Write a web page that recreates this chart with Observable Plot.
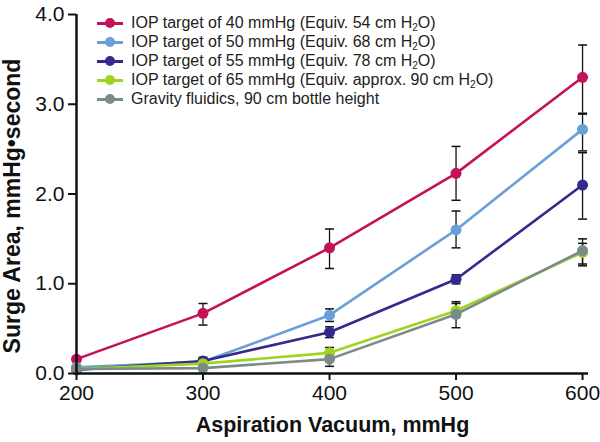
<!DOCTYPE html>
<html>
<head>
<meta charset="utf-8">
<script src="https://cdn.jsdelivr.net/npm/d3@7"></script>
<script src="https://cdn.jsdelivr.net/npm/@observablehq/plot@0.6"></script>
<style>
  html, body { margin: 0; padding: 0; background: #fff; }
  #wrap { position: relative; width: 600px; height: 442px; font-family: "Liberation Sans", Arial, sans-serif; }
  #legend { position: absolute; left: 97px; top: 13px; font-size: 16px; color: #222; }
  .row { height: 19px; display: flex; align-items: center; white-space: nowrap; }
  .sw { position: relative; width: 26px; height: 12px; margin-right: 8px; }
  .sw .ln { position: absolute; left: 0; right: 0; top: 5px; height: 3px; }
  .sw .dt { position: absolute; left: 8px; top: 1px; width: 10px; height: 10px; border-radius: 50%; }
  sub { font-size: 10px; vertical-align: -3px; line-height: 0; }
</style>
</head>
<body>
<div id="wrap"><div id="legend"></div></div>
<script>
const vacuum = [200, 300, 400, 500, 600];
const seriesNames = [
  "IOP target of 40 mmHg (Equiv. 54 cm H<sub>2</sub>O)",
  "IOP target of 50 mmHg (Equiv. 68 cm H<sub>2</sub>O)",
  "IOP target of 55 mmHg (Equiv. 78 cm H<sub>2</sub>O)",
  "IOP target of 65 mmHg (Equiv. approx. 90 cm H<sub>2</sub>O)",
  "Gravity fluidics, 90 cm bottle height"
];
const colors = ["#c4125a", "#6a9fd8", "#332a8c", "#9fd41e", "#7b8b8b"];
const iop40 = [0.16, 0.67, 1.40, 2.23, 3.30];
const iop40Lo = [null, 0.54, 1.17, 1.93, 2.90];
const iop40Hi = [null, 0.78, 1.61, 2.53, 3.66];
const iop50 = [0.07, 0.13, 0.65, 1.60, 2.72];
const iop50Lo = [null, null, 0.58, 1.40, 2.48];
const iop50Hi = [null, null, 0.72, 1.81, 2.89];
const iop55 = [0.04, 0.14, 0.46, 1.05, 2.10];
const iop55Lo = [null, 0.10, 0.40, 1.00, 1.72];
const iop55Hi = [null, 0.18, 0.52, 1.10, 2.46];
const iop65 = [0.05, 0.11, 0.23, 0.70, 1.35];
const iop65Lo = [null, null, 0.17, 0.63, 1.22];
const iop65Hi = [null, null, 0.29, 0.80, 1.45];
const gravity = [0.05, 0.06, 0.16, 0.66, 1.37];
const gravityLo = [null, null, 0.08, 0.51, 1.20];
const gravityHi = [null, null, 0.22, 0.78, 1.50];
const yTicks = [0, 1, 2, 3, 4];
const xTitle = "Aspiration Vacuum, mmHg";
const yTitle = "Surge Area, mmHg\u2022second";

const vals = [iop40, iop50, iop55, iop65, gravity];
const los = [iop40Lo, iop50Lo, iop55Lo, iop65Lo, gravityLo];
const his = [iop40Hi, iop50Hi, iop55Hi, iop65Hi, gravityHi];

const data = [];
const errs = [];
vals.forEach((arr, s) => arr.forEach((v, i) => {
  data.push({series: s, x: vacuum[i], y: v});
  if (los[s][i] != null) errs.push({series: s, x: vacuum[i], lo: los[s][i], hi: his[s][i]});
}));
const caps = errs.flatMap(d => [{x: d.x, y: d.lo}, {x: d.x, y: d.hi}]);

const capSymbol = { draw(ctx) { ctx.moveTo(-4.5, 0); ctx.lineTo(4.5, 0); } };

const marks = [
  Plot.ruleX(errs, {x: "x", y1: "lo", y2: "hi", stroke: "#111", strokeWidth: 1.3}),
  Plot.dot(caps, {x: "x", y: "y", symbol: capSymbol, stroke: "#111", strokeWidth: 1.5, r: 4}),
];
for (let s = 0; s < vals.length; s++) {
  const d = data.filter(p => p.series === s);
  marks.push(Plot.line(d, {x: "x", y: "y", stroke: colors[s], strokeWidth: 2.6}));
  marks.push(Plot.dot(d, {x: "x", y: "y", fill: colors[s], r: 5.5}));
}
marks.push(
  Plot.axisX({ticks: vacuum, tickFormat: d => d, tickSize: 7, tickPadding: 5, fontSize: 21, label: null, strokeWidth: 2}),
  Plot.axisY({ticks: yTicks, tickFormat: d => d.toFixed(1), tickSize: 8, tickPadding: 4, fontSize: 21, label: null, strokeWidth: 2}),
  Plot.ruleX([200], {stroke: "#111", strokeWidth: 2.5}),
  Plot.ruleY([0], {stroke: "#111", strokeWidth: 2.5}),
  Plot.text([xTitle], {frameAnchor: "bottom", textAnchor: "middle", lineAnchor: "bottom", dy: 58, fontSize: 21.5, fontWeight: "bold", fill: "#111"}),
  Plot.text([yTitle], {frameAnchor: "left", textAnchor: "middle", lineAnchor: "middle", dx: -64, dy: 12, rotate: -90, fontSize: 23, fontWeight: "bold", fill: "#111"})
);

const chart = Plot.plot({
  width: 600,
  height: 442,
  marginLeft: 76,
  marginRight: 12,
  marginTop: 14,
  marginBottom: 69,
  style: {fontFamily: "'Liberation Sans', Arial, sans-serif", color: "#111", background: "#fff", overflow: "visible"},
  x: {domain: [200, 604.7], ticks: vacuum},
  y: {domain: [0, 4]},
  marks
});
document.getElementById("wrap").prepend(chart);

const legend = document.getElementById("legend");
seriesNames.forEach((name, s) => {
  const row = document.createElement("div");
  row.className = "row";
  row.innerHTML = `<div class="sw"><div class="ln" style="background:${colors[s]}"></div><div class="dt" style="background:${colors[s]}"></div></div><span>${name}</span>`;
  legend.appendChild(row);
});
</script>
</body>
</html>
